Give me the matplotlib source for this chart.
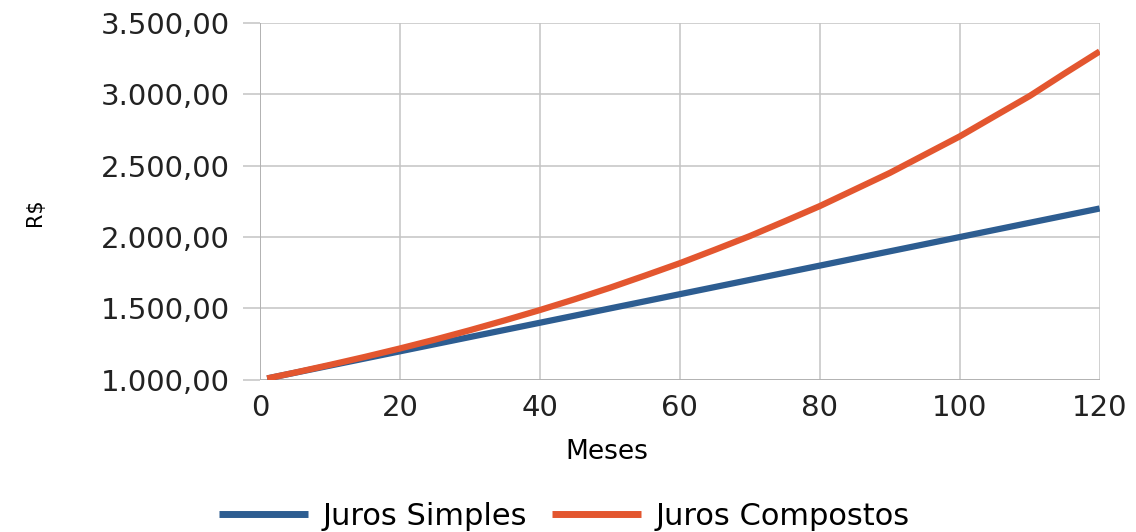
import matplotlib.pyplot as plt
from matplotlib.ticker import FuncFormatter

# months and values
meses = [1, 5, 10, 15, 20, 25, 30, 35, 40, 45, 50, 55, 60, 65, 70, 75, 80, 85, 90, 95, 100, 105, 110, 115, 120]
juros_simples = [1010, 1050, 1100, 1150, 1200, 1250, 1300, 1350, 1400, 1450, 1500, 1550, 1600, 1650, 1700,
                 1750, 1800, 1850, 1900, 1950, 2000, 2050, 2100, 2150, 2200]
juros_compostos = [1010, 1051, 1105, 1161, 1220, 1282, 1348, 1417, 1489, 1565, 1645, 1730, 1817, 1911, 2007,
                   2111, 2217, 2333, 2449, 2577, 2705, 2847, 2988, 3146, 3300]

y_ticks = [1000, 1500, 2000, 2500, 3000, 3500]
x_ticks = [0, 20, 40, 60, 80, 100, 120]

plt.rcParams['font.family'] = ['DejaVu Sans']

def brl(v, pos):
    s = "{:,.2f}".format(v)
    return s.replace(",", "X").replace(".", ",").replace("X", ".")

fig = plt.figure(figsize=(11.36, 5.32), dpi=100)
ax = fig.add_axes([0.229, 0.286, 0.739, 0.671])

ax.plot(meses, juros_simples, color='#2d5d91', linewidth=4.5, label="Juros Simples", solid_capstyle='butt', zorder=3)
ax.plot(meses, juros_compostos, color='#e3562f', linewidth=4.5, label="Juros Compostos", solid_capstyle='butt', zorder=3)

ax.set_xlim(0, 120)
ax.set_ylim(1000, 3500)
ax.set_xticks(x_ticks)
ax.set_yticks(y_ticks)
ax.yaxis.set_major_formatter(FuncFormatter(brl))
ax.grid(True, color='#c4c4c4', linewidth=1.1)
ax.set_axisbelow(True)
for s in ax.spines.values():
    s.set_visible(False)
ax.tick_params(axis='y', length=12, color='#c4c4c4', width=1.1, labelsize=21, pad=10, labelcolor='#222222')
ax.tick_params(axis='x', length=0, labelsize=21, pad=10, labelcolor='#222222')
ax.axvline(0, color='#b0b0b0', linewidth=1.3)
ax.axhline(1000, color='#b0b0b0', linewidth=1.3)

ax.set_xlabel("Meses", fontsize=19)
ax.xaxis.set_label_coords(0.413, -0.202)
ax.xaxis.label.set_va('center')
ax.set_ylabel("R$", fontsize=15)
ax.yaxis.set_label_coords(-0.268, 0.47)
ax.yaxis.label.set_va('center')

fig.legend(loc='center', bbox_to_anchor=(0.497, 0.03), ncol=2, frameon=False, fontsize=22,
           handlelength=2.9, columnspacing=0.8, handletextpad=0.5, borderpad=0, borderaxespad=0)
for line in fig.legends[0].get_lines():
    line.set_linewidth(5)

fig.savefig("out.png", dpi=100, facecolor='white')
